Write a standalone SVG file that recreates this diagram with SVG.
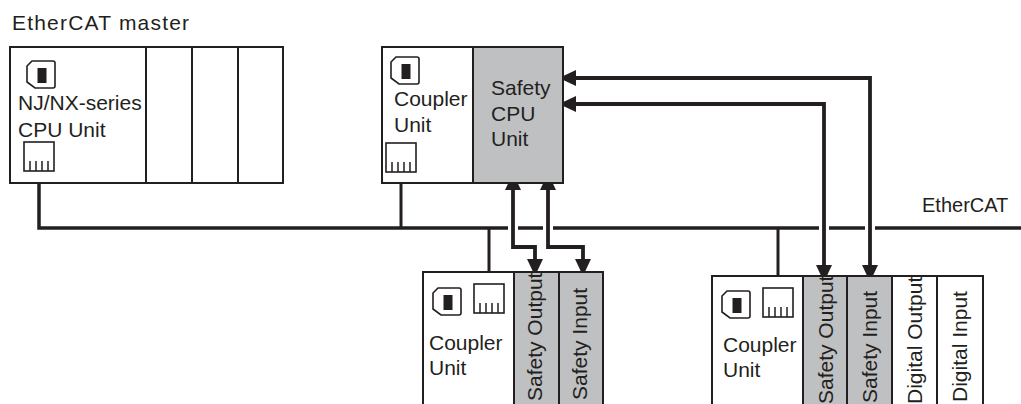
<svg xmlns="http://www.w3.org/2000/svg" width="1021" height="404" viewBox="0 0 1021 404">
<style>
text{font-family:"Liberation Sans",Arial,sans-serif;font-size:21px;fill:#231f20}
.box{fill:#fff;stroke:#231f20;stroke-width:2}
.gray{fill:#bfc0c2;stroke:#231f20;stroke-width:2}
.div{stroke:#231f20;stroke-width:2;fill:none}
.ico{fill:#fff;stroke:#231f20;stroke-width:1.6}
.tick{stroke:#231f20;stroke-width:1.5}
.bus{fill:none;stroke:#231f20;stroke-width:3.5}
.tee{fill:none;stroke:#231f20;stroke-width:3}
.halo{stroke:#fff;stroke-width:10}
.arr{fill:none;stroke:#231f20;stroke-width:3.8;marker-start:url(#ah);marker-end:url(#ah)}
</style>
<defs>
<marker id="ah" markerUnits="userSpaceOnUse" markerWidth="18" markerHeight="16" viewBox="0 0 18 16" refX="0" refY="8" orient="auto-start-reverse">
<path d="M0,0 L17,8 L0,16 Z" fill="#231f20"/>
</marker>
<g id="card">
<path class="ico" d="M5,0 H26 Q28,0 28,2 V25 Q28,27 26,27 H8 L0,21 V5 Z"/>
<rect x="10.5" y="7" width="9" height="15" fill="#231f20"/>
</g>
<g id="port">
<rect class="ico" x="0" y="0" width="30" height="29"/>
<path class="tick" d="M6,19 V29 M12,19 V29 M18,19 V29 M24,19 V29"/>
</g>
</defs>

<text id="label-master" x="12" y="29.5" style="letter-spacing:1.2px">EtherCAT master</text>
<text id="label-ethercat" x="922" y="212" style="font-size:20px">EtherCAT</text>

<g id="connectors">
<path class="bus" d="M39,171 V228 H1021"/>
<path class="tee" d="M401,172 V228"/>
<path class="tee" d="M489,228 V284"/>
<path class="tee" d="M778,228 V288"/>
<line class="halo" x1="513" y1="222" x2="513" y2="234"/>
<line class="halo" x1="548" y1="222" x2="548" y2="234"/>
<line class="halo" x1="824" y1="222" x2="824" y2="234"/>
<line class="halo" x1="870" y1="222" x2="870" y2="234"/>
<path class="arr" d="M513,190 V247 H535 V259"/>
<path class="arr" d="M548,190 V247 H583 V259"/>
<path class="arr" d="M576,78 H870 V265"/>
<path class="arr" d="M576,104 H824 V265"/>
</g>

<g id="master">
<rect class="box" x="10" y="47" width="273" height="136"/>
<path class="div" d="M146,47 V183 M192,47 V183 M238,47 V183"/>
<use href="#card" x="27" y="61"/>
<text x="18" y="110">NJ/NX-series</text>
<text x="18" y="137">CPU Unit</text>
<use href="#port" x="24" y="142"/>
</g>

<g id="coupler-safety-cpu">
<rect class="box" x="382" y="47" width="181" height="136"/>
<rect class="gray" x="473" y="47" width="90" height="136"/>
<use href="#card" x="391" y="57"/>
<text x="394" y="106">Coupler</text>
<text x="394" y="132">Unit</text>
<use href="#port" x="386" y="143"/>
<text x="491" y="95">Safety</text>
<text x="491" y="121">CPU</text>
<text x="491" y="146">Unit</text>
</g>

<g id="slave-1">
<rect class="box" x="423" y="272" width="180" height="160"/>
<rect class="gray" x="514" y="272" width="45" height="160"/>
<rect class="gray" x="559" y="272" width="44" height="160"/>
<use href="#card" x="433" y="288"/>
<use href="#port" x="474" y="284"/>
<text x="429" y="350">Coupler</text>
<text x="429" y="375">Unit</text>
<text transform="translate(542,401) rotate(-90)">Safety Output</text>
<text transform="translate(587,400) rotate(-90)">Safety Input</text>
</g>

<g id="slave-2">
<rect class="box" x="712" y="276" width="271" height="160"/>
<rect class="gray" x="803" y="276" width="44" height="160"/>
<rect class="gray" x="847" y="276" width="45" height="160"/>
<path class="div" d="M937,276 V436"/>
<use href="#card" x="722" y="291"/>
<use href="#port" x="763" y="288"/>
<text x="723" y="352">Coupler</text>
<text x="723" y="377">Unit</text>
<text transform="translate(833,404) rotate(-90)">Safety Output</text>
<text transform="translate(877,403) rotate(-90)">Safety Input</text>
<text transform="translate(922,404) rotate(-90)">Digital Output</text>
<text transform="translate(967,402) rotate(-90)">Digital Input</text>
</g>
</svg>
